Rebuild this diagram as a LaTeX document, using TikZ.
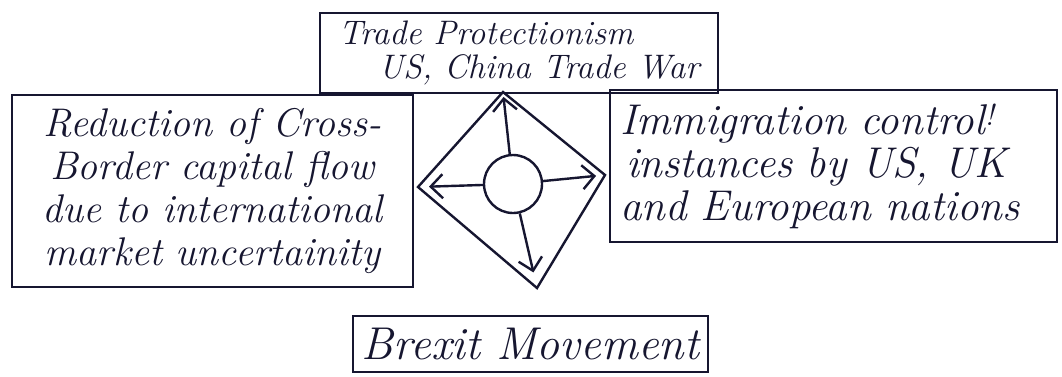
\documentclass[tikz,border=0pt]{standalone}
\usetikzlibrary{arrows.meta}
\definecolor{ink}{RGB}{22,22,48}
\begin{document}
\begin{tikzpicture}[x=1pt,y=-1pt,
  box/.style={draw=ink, line width=2.4pt, inner sep=0pt, text=ink},
  arr/.style={draw=ink, line width=2.4pt, -{Straight Barb[length=12pt,width=24pt,line width=2.4pt]}}]
\useasboundingbox (0,0) rectangle (1062,376);
\fill[white] (0,0) rectangle (1062,376);
% boxes
\node[box, minimum width=398pt, minimum height=80pt, align=left,
  font=\itshape\fontsize{34}{34}\selectfont] (trade) at (519,53)
  {Trade Protectionism\\\hspace{40pt}US, China Trade War};
\node[box, minimum width=401pt, minimum height=192pt, align=center,
  font=\itshape\fontsize{40}{43}\selectfont] (capital) at (212.5,191)
  {Reduction of Cross-\\Border capital flow\\due to international\\market uncertainity};
\node[box, minimum width=447pt, minimum height=152pt, text width=427pt,
  inner xsep=10pt, align=left,
  font=\itshape\fontsize{43}{43}\selectfont] (immig) at (833.5,166)
  {Immigration control\textsuperscript{!}\\\hspace{6pt}instances by US, UK\\and European nations};
\node[box, minimum width=355pt, minimum height=56pt,
  font=\itshape\fontsize{46}{46}\selectfont] (brexit) at (530.5,344)
  {Brexit Movement};
% diamond
\coordinate (dtop) at (503,92);
\coordinate (dright) at (605,175);
\coordinate (dbot) at (537,288);
\coordinate (dleft) at (418,187);
\draw[draw=ink, line width=2.4pt, line join=miter] (dtop) -- (dright) -- (dbot) -- (dleft) -- cycle;
\node[draw=ink, line width=2.4pt, circle, minimum size=58pt, inner sep=0pt] (hub) at (513,184) {};
\draw[arr, shorten >=5pt] (hub) -- (dtop);
\draw[arr, shorten >=11pt] (hub) -- (dleft);
\draw[arr, shorten >=9pt] (hub) -- (dright);
\draw[arr, shorten >=16pt] (hub) -- (dbot);
\end{tikzpicture}
\end{document}
